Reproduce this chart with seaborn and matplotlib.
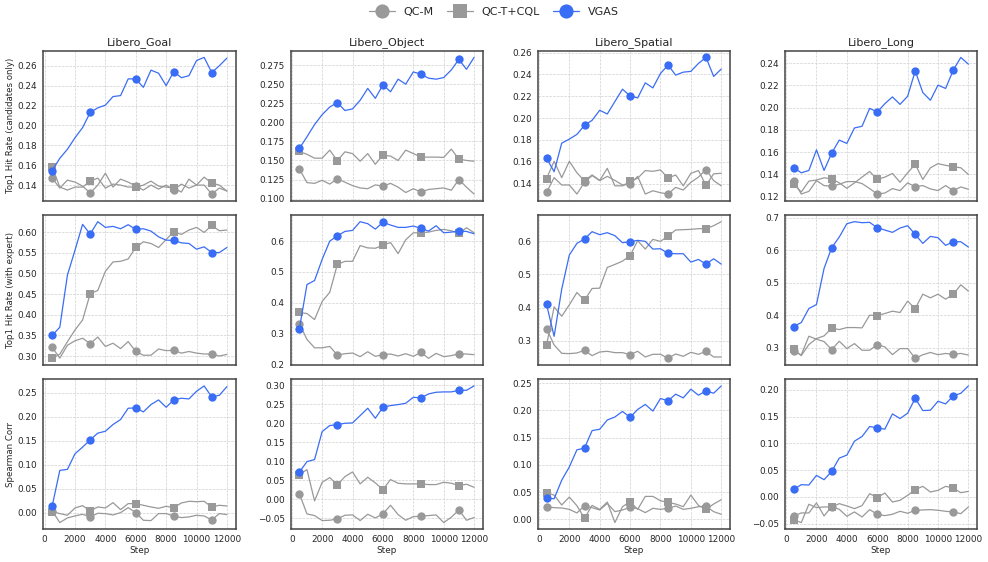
import numpy as np
import pandas as pd
import matplotlib
matplotlib.use("Agg")
import matplotlib.pyplot as plt
from matplotlib.ticker import MultipleLocator
import seaborn as sns

steps = list(range(500, 12001, 500))
tasks = ["Libero_Goal", "Libero_Object", "Libero_Spatial", "Libero_Long"]
metrics = ["Top1 Hit Rate (candidates only)", "Top1 Hit Rate (with expert)", "Spearman Corr"]
methods = ["QC-M", "QC-T+CQL", "VGAS"]

# --- Top1 hit rate (candidates only) ---
goal_cand_qcm = [0.147, 0.137, 0.145, 0.143, 0.139, 0.132, 0.140, 0.152, 0.138, 0.146, 0.143, 0.139,
                 0.135, 0.140, 0.136, 0.140, 0.135, 0.141, 0.137, 0.140, 0.140, 0.131, 0.137, 0.134]
goal_cand_qct = [0.158, 0.138, 0.135, 0.138, 0.138, 0.144, 0.147, 0.137, 0.141, 0.140, 0.138, 0.138,
                 0.140, 0.144, 0.139, 0.138, 0.137, 0.133, 0.146, 0.140, 0.148, 0.142, 0.140, 0.134]
goal_cand_vgas = [0.1545, 0.167, 0.176, 0.1876, 0.1978, 0.213, 0.2177, 0.2204, 0.229, 0.230, 0.2468, 0.2468,
                  0.2383, 0.2556, 0.2525, 0.240, 0.2542, 0.248, 0.250, 0.2653, 0.2684, 0.2532, 0.260, 0.2677]

obj_cand_qcm = [0.1388, 0.121, 0.120, 0.124, 0.119, 0.1259, 0.1215, 0.117, 0.114, 0.113, 0.118, 0.1163,
                0.120, 0.115, 0.108, 0.113, 0.1086, 0.112, 0.113, 0.114, 0.111, 0.125, 0.115, 0.106]
obj_cand_qct = [0.1618, 0.158, 0.153, 0.153, 0.1635, 0.1497, 0.1613, 0.159, 0.149, 0.159, 0.145, 0.157,
                0.1557, 0.150, 0.1635, 0.159, 0.1544, 0.1544, 0.1544, 0.154, 0.1648, 0.1518, 0.150, 0.149]
obj_cand_vgas = [0.1657, 0.181, 0.197, 0.210, 0.220, 0.2258, 0.2154, 0.2176, 0.2288, 0.2444, 0.2314, 0.2491,
                 0.240, 0.2565, 0.250, 0.266, 0.263, 0.2578, 0.2565, 0.2586, 0.2686, 0.2824, 0.2694, 0.285]

spat_cand_qcm = [0.132, 0.1455, 0.1388, 0.1388, 0.1305, 0.1412, 0.1474, 0.1428, 0.1467, 0.143, 0.1388, 0.1394,
                 0.1467, 0.1305, 0.1335, 0.1317, 0.1305, 0.1366, 0.1342, 0.1412, 0.146, 0.1529, 0.1428, 0.138]
spat_cand_qct = [0.1446, 0.1605, 0.1455, 0.1605, 0.150, 0.1425, 0.148, 0.143, 0.154, 0.138, 0.138, 0.142,
                 0.145, 0.152, 0.1513, 0.1526, 0.145, 0.148, 0.138, 0.1495, 0.152, 0.1385, 0.149, 0.1495]
spat_cand_vgas = [0.1633, 0.151, 0.1771, 0.1808, 0.1851, 0.1934, 0.198, 0.2072, 0.2038, 0.2152, 0.2265, 0.2204,
                  0.2185, 0.2323, 0.2277, 0.2409, 0.2486, 0.2394, 0.2421, 0.2428, 0.2501, 0.2556, 0.2382, 0.2449]

long_cand_qcm = [0.1342, 0.1224, 0.1248, 0.1345, 0.130, 0.1294, 0.1312, 0.1336, 0.1336, 0.1318, 0.1273, 0.1224,
                 0.1233, 0.1273, 0.1255, 0.1324, 0.129, 0.130, 0.127, 0.1255, 0.130, 0.1255, 0.1288, 0.1267]
long_cand_qct = [0.1315, 0.1242, 0.134, 0.135, 0.137, 0.136, 0.1324, 0.1276, 0.1324, 0.1376, 0.1427, 0.1355,
                 0.1376, 0.1409, 0.133, 0.1415, 0.1491, 0.1355, 0.146, 0.1497, 0.1482, 0.147, 0.146, 0.140]
long_cand_vgas = [0.1461, 0.1415, 0.1436, 0.1621, 0.1436, 0.1591, 0.1709, 0.1679, 0.1818, 0.1833, 0.1994, 0.1961,
                  0.2036, 0.2097, 0.203, 0.2103, 0.233, 0.2136, 0.2067, 0.2203, 0.2173, 0.2336, 0.2452, 0.2391]

# --- Top1 hit rate (with expert) ---
goal_exp_qcm = [0.321, 0.295, 0.326, 0.337, 0.343, 0.330, 0.346, 0.323, 0.331, 0.318, 0.335, 0.311,
                0.302, 0.302, 0.317, 0.313, 0.314, 0.307, 0.311, 0.307, 0.305, 0.305, 0.300, 0.304]
goal_exp_qct = [0.2945, 0.3045, 0.3346, 0.363, 0.3873, 0.4506, 0.4588, 0.505, 0.5277, 0.5293, 0.535, 0.5627,
                0.5765, 0.5724, 0.5627, 0.5822, 0.6008, 0.5943, 0.6049, 0.6114, 0.5992, 0.6162, 0.6033, 0.6049]
goal_exp_vgas = [0.350, 0.3698, 0.4956, 0.5562, 0.6187, 0.5951, 0.6252, 0.6114, 0.6138, 0.6081, 0.6179, 0.6065,
                 0.6081, 0.6024, 0.5886, 0.5805, 0.5797, 0.574, 0.5724, 0.5586, 0.5643, 0.5505, 0.5505, 0.5627]

obj_exp_qcm = [0.3327, 0.2815, 0.2542, 0.2542, 0.2586, 0.2309, 0.2351, 0.2373, 0.2256, 0.2415, 0.2266, 0.2319,
               0.2341, 0.2277, 0.2351, 0.2266, 0.2394, 0.2202, 0.2362, 0.2256, 0.2288, 0.2351, 0.2341, 0.2319]
obj_exp_qct = [0.3687, 0.3654, 0.3458, 0.4047, 0.4341, 0.5246, 0.5345, 0.5345, 0.5857, 0.5781, 0.577, 0.5868,
               0.5956, 0.5596, 0.6043, 0.6271, 0.6271, 0.6293, 0.6348, 0.638, 0.6337, 0.625, 0.6435, 0.6271]
obj_exp_vgas = [0.3153, 0.4592, 0.4723, 0.541, 0.600, 0.6173, 0.6315, 0.6348, 0.6631, 0.6566, 0.6391, 0.661,
                0.6522, 0.6446, 0.6446, 0.649, 0.6413, 0.6326, 0.650, 0.6271, 0.6293, 0.6326, 0.6315, 0.6239]

spat_exp_qcm = [0.337, 0.288, 0.263, 0.262, 0.264, 0.272, 0.256, 0.267, 0.269, 0.265, 0.265, 0.259,
                0.269, 0.252, 0.260, 0.260, 0.248, 0.261, 0.254, 0.266, 0.260, 0.269, 0.252, 0.252]
spat_exp_qct = [0.287, 0.4023, 0.3742, 0.4083, 0.4454, 0.4224, 0.4575, 0.4585, 0.5207, 0.5297, 0.5397, 0.5558,
                0.6009, 0.5758, 0.6049, 0.5989, 0.615, 0.633, 0.634, 0.635, 0.637, 0.637, 0.646, 0.658]
spat_exp_vgas = [0.4103, 0.314, 0.4555, 0.5578, 0.5929, 0.6059, 0.628, 0.619, 0.625, 0.616, 0.5949, 0.5979,
                 0.6019, 0.5989, 0.5758, 0.5768, 0.5628, 0.5618, 0.5618, 0.5367, 0.5447, 0.5307, 0.5467, 0.5307]

long_exp_qcm = [0.2887, 0.2774, 0.335, 0.3257, 0.3185, 0.2938, 0.3195, 0.2969, 0.3123, 0.2918, 0.2918, 0.3093,
                0.3021, 0.2784, 0.2969, 0.2969, 0.267, 0.278, 0.285, 0.278, 0.282, 0.279, 0.282, 0.277]
long_exp_qct = [0.2949, 0.2753, 0.3093, 0.3278, 0.336, 0.3596, 0.3555, 0.3617, 0.3617, 0.3607, 0.3997, 0.3987,
                0.4049, 0.4121, 0.408, 0.4429, 0.4203, 0.4645, 0.4532, 0.4645, 0.4491, 0.4635, 0.4933, 0.4738]
long_exp_vgas = [0.3648, 0.3771, 0.4203, 0.4326, 0.5437, 0.6075, 0.6404, 0.6815, 0.6877, 0.6846, 0.6856, 0.6692,
                 0.662, 0.6548, 0.6681, 0.6753, 0.6486, 0.6208, 0.6424, 0.6383, 0.6147, 0.626, 0.626, 0.6095]

# --- Spearman correlation ---
goal_corr_qcm = [0.0035, -0.0208, -0.0111, -0.0069, -0.0035, -0.009, -0.0014, -0.0021, -0.0049, 0.000, 0.0104, 0.000,
                 -0.016, -0.0167, -0.002, -0.002, -0.0076, -0.0104, -0.009, -0.0056, -0.007, -0.0153, -0.002, -0.0042]
goal_corr_qct = [0.0021, -0.002, -0.0056, 0.0097, 0.0146, 0.0035, 0.0118, 0.0097, 0.0208, 0.0063, 0.0188, 0.0188,
                 0.0153, 0.0118, 0.009, 0.0132, 0.0104, 0.0201, 0.0236, 0.0229, 0.0236, 0.0118, 0.0153, 0.0139]
goal_corr_vgas = [0.0139, 0.0882, 0.0903, 0.1229, 0.1368, 0.1521, 0.166, 0.170, 0.184, 0.1944, 0.218, 0.2188,
                  0.2104, 0.2257, 0.2354, 0.2201, 0.2354, 0.2389, 0.2375, 0.2535, 0.2646, 0.2417, 0.2451, 0.2632]

obj_corr_qcm = [0.0149, -0.0386, -0.043, -0.0561, -0.0553, -0.0518, -0.0421, -0.0412, -0.0561, -0.0395, -0.0491, -0.0386,
                -0.0158, -0.0404, -0.0553, -0.0456, -0.0447, -0.043, -0.0412, -0.0614, -0.0474, -0.0281, -0.0553, -0.0482]
obj_corr_qct = [0.0649, 0.0781, -0.0044, 0.0447, 0.057, 0.0377, 0.0596, 0.0719, 0.0404, 0.0579, 0.043, 0.0254,
                0.0518, 0.0421, 0.0404, 0.0404, 0.0404, 0.0386, 0.0386, 0.0447, 0.0421, 0.036, 0.0395, 0.0316]
obj_corr_vgas = [0.0711, 0.0991, 0.1044, 0.1781, 0.1939, 0.1965, 0.200, 0.2009, 0.2202, 0.2395, 0.2132, 0.2421,
                 0.2465, 0.2491, 0.2526, 0.2684, 0.2667, 0.2772, 0.2816, 0.2825, 0.2825, 0.2868, 0.2868, 0.2982]

spat_corr_qcm = [0.0231, 0.0213, 0.0207, 0.0182, 0.0116, 0.0249, 0.0213, 0.017, 0.0292, 0.014, 0.017, 0.0219,
                 0.0195, 0.0122, 0.0201, 0.0182, 0.0201, 0.0243, 0.0182, 0.0201, 0.0231, 0.0237, 0.014, 0.0091]
spat_corr_qct = [0.0487, 0.0444, 0.0262, 0.0408, 0.0249, 0.0018, 0.0255, 0.0182, 0.0316, -0.0061, 0.0231, 0.0322,
                 0.0182, 0.042, 0.042, 0.0341, 0.031, 0.028, 0.0231, 0.0444, 0.0255, 0.0182, 0.028, 0.0359]
spat_corr_vgas = [0.0389, 0.0377, 0.0718, 0.0961, 0.1277, 0.1308, 0.163, 0.1655, 0.1825, 0.188, 0.1983, 0.1873,
                  0.2019, 0.2111, 0.1989, 0.222, 0.2178, 0.2299, 0.2232, 0.2391, 0.2281, 0.236, 0.2317, 0.2451]

long_corr_qcm = [-0.0357, -0.0301, -0.0301, -0.0114, -0.0357, -0.0183, -0.0233, -0.0363, -0.0282, -0.0376, -0.0239, -0.0326,
                 -0.0351, -0.0326, -0.027, -0.0307, -0.0251, -0.0245, -0.0239, -0.0251, -0.027, -0.0282, -0.0314, -0.0189]
long_corr_qct = [-0.0425, -0.0481, -0.0139, -0.0201, -0.0189, -0.0189, -0.0127, -0.017, -0.022, -0.0164, 0.006, -0.0015,
                 0.0072, -0.0096, -0.0065, 0.0029, 0.0134, 0.0197, 0.0091, 0.0122, 0.0197, 0.0166, 0.0078, 0.0103]
long_corr_vgas = [0.0141, 0.0228, 0.0221, 0.0402, 0.0321, 0.0476, 0.0725, 0.0781, 0.1042, 0.1129, 0.1316, 0.1291,
                  0.1266, 0.1552, 0.1465, 0.1565, 0.1845, 0.1614, 0.1621, 0.1789, 0.1739, 0.1888, 0.1938, 0.2075]

grid_data = [
    [(goal_cand_qcm, goal_cand_qct, goal_cand_vgas), (obj_cand_qcm, obj_cand_qct, obj_cand_vgas),
     (spat_cand_qcm, spat_cand_qct, spat_cand_vgas), (long_cand_qcm, long_cand_qct, long_cand_vgas)],
    [(goal_exp_qcm, goal_exp_qct, goal_exp_vgas), (obj_exp_qcm, obj_exp_qct, obj_exp_vgas),
     (spat_exp_qcm, spat_exp_qct, spat_exp_vgas), (long_exp_qcm, long_exp_qct, long_exp_vgas)],
    [(goal_corr_qcm, goal_corr_qct, goal_corr_vgas), (obj_corr_qcm, obj_corr_qct, obj_corr_vgas),
     (spat_corr_qcm, spat_corr_qct, spat_corr_vgas), (long_corr_qcm, long_corr_qct, long_corr_vgas)],
]

# y tick spacing per panel (rows x cols)
ytick_steps = [[0.02, 0.025, 0.02, 0.02],
               [0.05, 0.1, 0.1, 0.1],
               [0.05, 0.05, 0.05, 0.05]]

styles = {
    "QC-M": dict(color="#999999", marker="o"),
    "QC-T+CQL": dict(color="#999999", marker="s"),
    "VGAS": dict(color="#3A6DF5", marker="o"),
}
mark_idx = [0, 5, 11, 16, 21]

sns.set_style("white")
plt.rcParams["font.family"] = ["DejaVu Sans"]

fig, axes = plt.subplots(3, 4, figsize=(9.88, 5.62), dpi=100, sharex=True)
fig.subplots_adjust(left=0.044, right=0.989, top=0.91, bottom=0.058, wspace=0.286, hspace=0.093)

for r in range(3):
    for c in range(4):
        ax = axes[r, c]
        for name, vals in zip(methods, grid_data[r][c]):
            st = styles[name]
            sns.lineplot(x=steps, y=vals, ax=ax, color=st["color"], marker=st["marker"],
                         markevery=mark_idx, markersize=6, markeredgewidth=0,
                         linewidth=0.9, label=name, legend=False)
        ax.grid(True, linestyle="--", linewidth=0.5, color="#d0d0d0")
        ax.tick_params(labelsize=6.4, length=2.5, width=0.8, color="#333333", pad=1.8)
        for sp in ax.spines.values():
            sp.set_color("#444444")
            sp.set_linewidth(1.1)
        ax.yaxis.set_major_locator(MultipleLocator(ytick_steps[r][c]))
        if r == 0:
            ax.set_title(tasks[c], fontsize=8, pad=4)
        if c == 0:
            ax.set_ylabel(metrics[r], fontsize=6.2, labelpad=2)
        else:
            ax.set_ylabel("")
        if r == 2:
            ax.set_xlabel("Step", fontsize=6.4, labelpad=1)
        ax.set_xticks(range(0, 12001, 2000))

handles, labels = axes[0, 0].get_legend_handles_labels()
fig.legend(handles, labels, loc="upper center", ncol=3, frameon=False, fontsize=8,
           markerscale=1.7, bbox_to_anchor=(0.5, 1.005), columnspacing=1.2, handlelength=2.3)

fig.savefig("out.png", dpi=100)
